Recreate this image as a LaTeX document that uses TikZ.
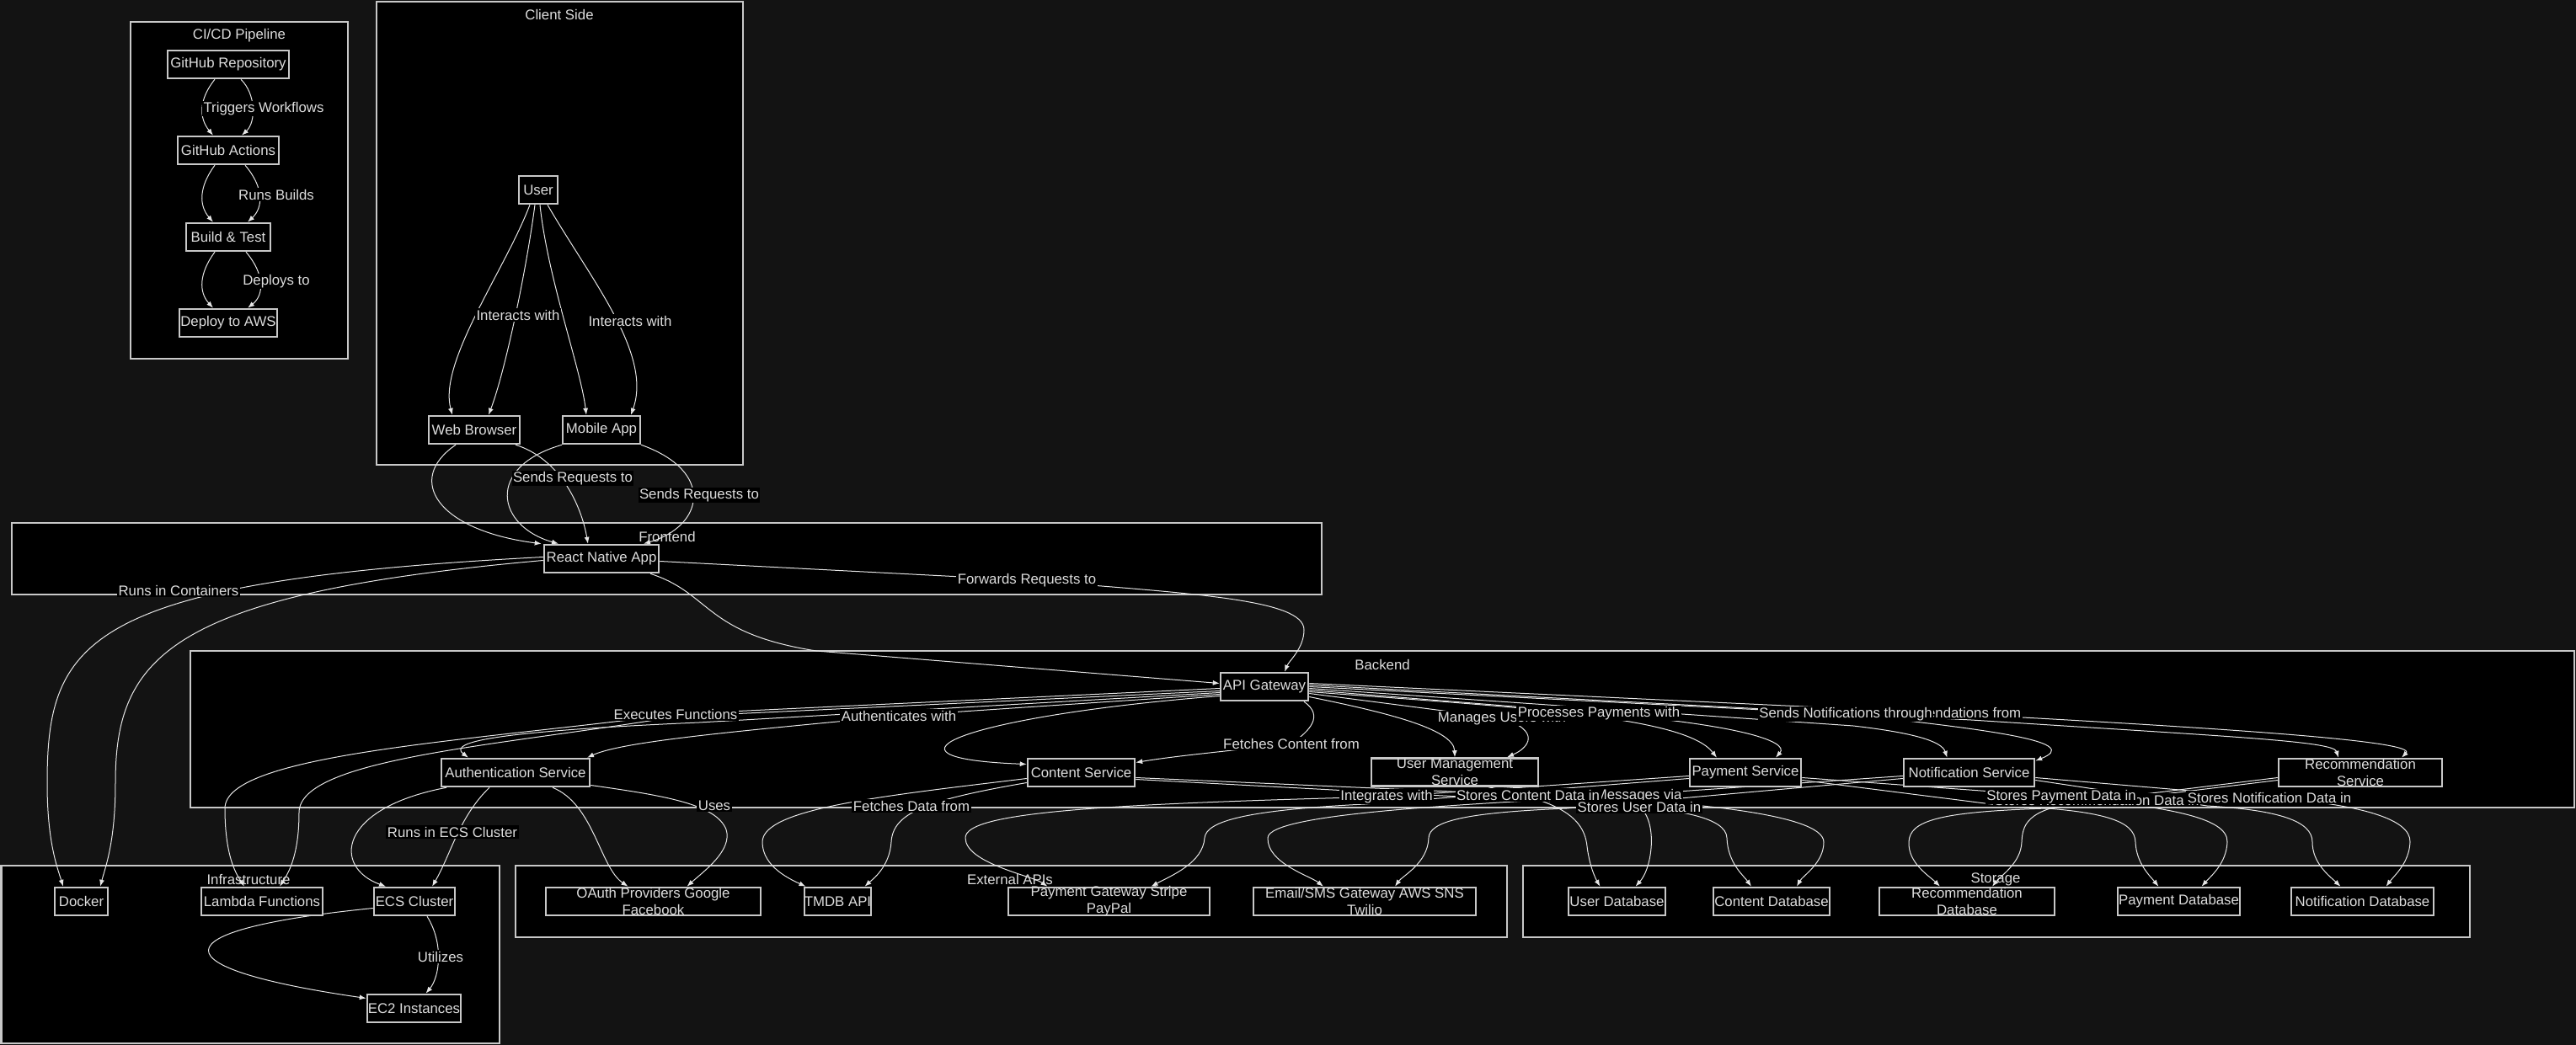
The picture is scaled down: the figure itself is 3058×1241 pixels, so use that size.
\documentclass[tikz,border=0pt]{standalone}
\usepackage{fontspec}
\setmainfont{Liberation Sans}
\usetikzlibrary{arrows.meta}

\definecolor{bgc}{HTML}{131313}
\definecolor{linec}{HTML}{E6E6E6}
\definecolor{framec}{HTML}{C8C8C8}
\definecolor{txtc}{HTML}{DDDDDD}

\pgfdeclarelayer{back}
\pgfdeclarelayer{edges}
\pgfsetlayers{back,edges,main}

\begin{document}
\begin{tikzpicture}[x=1pt,y=-1pt,
  every node/.style={font=\fontsize{16.8}{20}\selectfont,text=txtc},
  cluster/.style={draw=framec,line width=2.5pt,fill=black},
  box/.style={draw=framec,line width=2.5pt,fill=black,minimum height=33pt,inner sep=0pt},
  twoline/.style={align=center,inner sep=0pt},
  lbl/.style={fill=black,inner sep=1.5pt},
  edge/.style={->,draw=linec,line width=1pt},
  >={Latex[length=8pt,width=6pt]}]

\useasboundingbox (0,0) rectangle (3058,1241);

\begin{pgfonlayer}{back}
\fill[bgc] (0,0) rectangle (3058,1241);
% subgraphs
\draw[cluster] (155,26) rectangle (413,426);
\node (tcicd) at (284,42) {CI/CD Pipeline};
\draw[cluster] (447,2) rectangle (882,552);
\node (tclient) at (664,17) {Client Side};
\draw[cluster] (14,621) rectangle (1569,706);
\node (tfront) at (792,637) {Frontend};
\draw[cluster] (226,773) rectangle (3056,959);
\node (tback) at (1641,789) {Backend};
\draw[cluster] (1.5,1028) rectangle (593,1239);
\node (tinfra) at (295,1044) {Infrastructure};
\draw[cluster] (612,1028) rectangle (1789,1113);
\node (text) at (1199,1044) {External APIs};
\draw[cluster] (1808,1028) rectangle (2932,1113);
\node (tstore) at (2369,1044) {Storage};
\end{pgfonlayer}

% CI/CD
\node[box,minimum width=144pt] (ghr) at (271,76.5) {GitHub Repository};
\node[box,minimum width=120pt] (gha) at (271,178.5) {GitHub Actions};
\node[box,minimum width=100pt] (bt) at (271,281.5) {Build \& Test};
\node[box,minimum width=116pt] (aws) at (271,383.5) {Deploy to AWS};
% client side
\node[box,minimum width=46pt] (user) at (639,225.5) {User};
\node[box,minimum width=108pt] (wb) at (563,510.5) {Web Browser};
\node[box,minimum width=92pt] (ma) at (714,510.5) {Mobile App};
% frontend
\node[box,minimum width=136pt] (rna) at (714,663.5) {React Native App};
% backend
\node[box,minimum width=104pt] (api) at (1501,815.5) {API Gateway};
\node[box,minimum width=176pt] (auth) at (612,917.5) {Authentication Service};
\node[box,minimum width=127pt] (cont) at (1283.5,917.5) {Content Service};
\node[box,minimum width=198pt,label={[twoline]center:User Management\\Service}] (ums) at (1727,917) {};
\node[box,minimum width=132pt] (pay) at (2072,917.5) {Payment Service};
\node[box,minimum width=155pt] (notif) at (2337.5,917.5) {Notification Service};
\node[box,minimum width=194pt,label={[twoline]center:Recommendation\\Service}] (rec) at (2802,917.5) {};
% infrastructure
\node[box,minimum width=63pt] (docker) at (96.5,1070.5) {Docker};
\node[box,minimum width=144pt] (lambda) at (311,1070.5) {Lambda Functions};
\node[box,minimum width=96pt] (ecs) at (492,1070.5) {ECS Cluster};
\node[box,minimum width=111pt] (ec2) at (491.5,1197.5) {EC2 Instances};
% external apis
\node[box,minimum width=255pt,label={[twoline]center:OAuth Providers Google\\Facebook}] (oauth) at (775.5,1070.5) {};
\node[box,minimum width=79pt] (tmdb) at (994.5,1070.5) {TMDB API};
\node[box,minimum width=239pt,label={[twoline]center:Payment Gateway Stripe\\PayPal}] (pgw) at (1316.5,1070.5) {};
\node[box,minimum width=264pt,label={[twoline]center:Email/SMS Gateway AWS SNS\\Twilio}] (sms) at (1620,1070.5) {};
% storage
\node[box,minimum width=115pt] (udb) at (1919.5,1070.5) {User Database};
\node[box,minimum width=138pt] (cdb) at (2103,1070.5) {Content Database};
\node[box,minimum width=208pt,label={[twoline]center:Recommendation\\Database}] (rdb) at (2335,1070.5) {};
\node[box,minimum width=145pt] (pdb) at (2586.5,1070.5) {Payment Database};
\node[box,minimum width=169pt] (ndb) at (2804.5,1070.5) {Notification Database};

% edge labels
\node[lbl] (lTrig) at (313,129) {Triggers Workflows};
\node[lbl] (lRuns) at (328,231) {Runs Builds};
\node[lbl] (lDepl) at (328,334) {Deploys to};
\node[lbl] (lInt1) at (615,374) {Interacts with};
\node[lbl] (lInt2) at (748,381) {Interacts with};
\node[lbl] (lSnd1) at (680,568) {Sends Requests to};
\node[lbl] (lSnd2) at (830,588) {Sends Requests to};
\node[lbl] (lCont) at (212,701) {Runs in Containers};
\node[lbl] (lFwd) at (1219,689) {Forwards Requests to};
\node[lbl] (lExec) at (802,848) {Executes Functions};
\node[lbl] (lAuth) at (1067,850) {Authenticates with};
\node[lbl] (lFetC) at (1533,883) {Fetches Content from};
\node[lbl] (lMan) at (1783,853) {Manages Users with};
\node[lbl] (lProc) at (1898,847) {Processes Payments with};
\node[lbl] (lRecs) at (2290,846) {Gets Recommendations from};
\node[lbl] (lNoti) at (2191,848) {Sends Notifications through};
\node[lbl] (lECS) at (537,988) {Runs in ECS Cluster};
\node[lbl] (lUses) at (848,957) {Uses};
\node[lbl] (lFetD) at (1082,957) {Fetches Data from};
\node[lbl] (lIntg) at (1646,946) {Integrates with};
\node[lbl] (lSRD) at (2489,950) {Stores Recommendation Data in};
\node[lbl] (lSPD) at (2447,946) {Stores Payment Data in};
\node[lbl] (lSND) at (2694,947) {Stores Notification Data in};
\node[lbl] (lMsg) at (1919,945) {Sends Messages via};
\node[lbl] (lSCD) at (1814,944) {Stores Content Data in};
\node[lbl] (lSUD) at (1946,958) {Stores User Data in};
\node[lbl] (lUtil) at (523,1136) {Utilizes};

\begin{pgfonlayer}{edges}
% pipeline
\draw[edge] ([xshift=-16pt]ghr.south) .. controls (236,118) and (236,140) .. ([xshift=-18pt]gha.north);
\draw[edge] ([xshift=15pt]ghr.south) .. controls (304,112) and (304,145) .. ([xshift=16pt]gha.north);
\draw[edge] ([xshift=-16pt]gha.south) .. controls (236,222) and (236,244) .. ([xshift=-18pt]bt.north);
\draw[edge] ([xshift=20pt]gha.south) .. controls (313,222) and (313,246) .. ([xshift=23pt]bt.north);
\draw[edge] ([xshift=-16pt]bt.south) .. controls (236,325) and (236,347) .. ([xshift=-18pt]aws.north);
\draw[edge] ([xshift=21pt]bt.south) .. controls (314,325) and (314,350) .. ([xshift=23pt]aws.north);
% client side
\draw[edge] ([xshift=-10pt]user.south) .. controls (600,320) and (520,430) .. ([xshift=-26pt]wb.north);
\draw[edge] ([xshift=-4pt]user.south) .. controls (625,320) and (600,440) .. ([xshift=17pt]wb.north);
\draw[edge] ([xshift=2pt]user.south) .. controls (650,330) and (690,440) .. ([xshift=-18pt]ma.north);
\draw[edge] ([xshift=11pt]user.south) .. controls (700,330) and (775,420) .. ([xshift=35pt]ma.north);
\draw[edge] ([xshift=-22pt]wb.south) .. controls (480,570) and (520,630) .. ([xshift=-2pt]rna.north west);
\draw[edge] ([xshift=49pt]wb.south) .. controls (665,545) and (690,600) .. ([xshift=-16pt]rna.north);
\draw[edge] ([xshift=-47pt]ma.south) .. controls (575,555) and (590,625) .. ([xshift=-51pt]rna.north);
\draw[edge] ([xshift=47pt]ma.south) .. controls (850,560) and (835,625) .. ([xshift=50pt]rna.north);
% frontend
\draw[edge] ([xshift=58pt]rna.south) .. controls (845,705) and (835,752) .. (969,773) -- ([yshift=4pt]api.west);
\draw[edge] ([yshift=-3pt]rna.east) -- (lFwd.center) .. controls (1420,705) and (1548,712) .. (1548,748) .. controls (1548,770) and (1530,785) .. ([xshift=24pt]api.north);
\draw[edge] ([yshift=2pt]rna.west) .. controls (100,690) and (56,760) .. (56,930) .. controls (56,1000) and (68,1030) .. ([xshift=-21.5pt]docker.north);
\draw[edge] ([yshift=-2pt]rna.west) .. controls (200,705) and (137,780) .. (137,930) .. controls (137,1000) and (125,1030) .. ([xshift=22.5pt]docker.north);
% backend
\draw[edge] ([yshift=-2pt]api.west) -- (lExec.center) .. controls (560,880) and (267,895) .. (267,960) .. controls (267,1020) and (282,1040) .. ([xshift=-21pt]lambda.north);
\draw[edge] ([yshift=-5pt]api.west) -- ([yshift=-3pt]lExec.center) .. controls (600,885) and (355,900) .. (355,965) .. controls (355,1020) and (340,1040) .. ([xshift=21pt]lambda.north);
\draw[edge] ([yshift=-7pt]api.west) -- (830,858) .. controls (600,868) and (530,880) .. ([xshift=-56pt]auth.north);
\draw[edge] ([yshift=-9pt]api.west) -- (lAuth.center) .. controls (880,868) and (740,880) .. ([xshift=85pt]auth.north);
\draw[edge] ([yshift=-11pt]api.west) .. controls (1150,850) and (1020,900) .. ([yshift=10pt]cont.west);
\draw[edge] ([xshift=47pt]api.south) .. controls (1572,850) and (1555,868) .. (lFetC.center) .. controls (1450,893) and (1400,897) .. ([yshift=12pt]cont.east);
\draw[edge] ([yshift=-12pt]api.east) .. controls (1640,845) and (1726,865) .. (ums.north);
\draw[edge] ([yshift=-8pt]api.east) -- (lMan.center) .. controls (1830,868) and (1815,888) .. ([xshift=62pt]ums.north);
\draw[edge] ([yshift=-6pt]api.east) .. controls (1800,840) and (2000,850) .. ([xshift=-34pt]pay.north);
\draw[edge] ([yshift=-4pt]api.east) -- (lProc.center) .. controls (2060,860) and (2125,880) .. ([xshift=36pt]pay.north);
\draw[edge] ([yshift=-2pt]api.east) -- (2200,862) .. controls (2270,870) and (2305,880) .. ([xshift=-26pt]notif.north);
\draw[edge] (api.east) -- (lNoti.center) .. controls (2380,868) and (2470,882) .. ([yshift=14pt]notif.east);
\draw[edge] ([yshift=2pt]api.east) -- (2340,855) .. controls (2650,875) and (2770,880) .. ([xshift=-26pt]rec.north);
\draw[edge] ([yshift=4pt]api.east) -- (lRecs.center) .. controls (2650,865) and (2870,880) .. ([xshift=49pt]rec.north);
% services to infrastructure, apis and storage
\draw[edge] ([xshift=-82pt]auth.south) .. controls (400,960) and (395,1030) .. ([xshift=-34pt]ecs.north);
\draw[edge] ([xshift=-31pt]auth.south) .. controls (545,970) and (535,1015) .. ([xshift=21pt]ecs.north);
\draw[edge] ([xshift=44pt]auth.south) .. controls (705,955) and (712,1030) .. ([xshift=-30pt]oauth.north);
\draw[edge] ([yshift=-15pt]auth.east) .. controls (790,945) and (850,955) .. (862,985) .. controls (870,1010) and (835,1035) .. ([xshift=40pt]oauth.north);
\draw[edge] ([yshift=-7pt]cont.west) .. controls (1050,945) and (905,960) .. (905,1000) .. controls (905,1030) and (940,1045) .. ([xshift=-38pt]tmdb.north);
\draw[edge] ([yshift=-12pt]cont.west) .. controls (1100,950) and (1060,965) .. (1058,1000) .. controls (1056,1030) and (1035,1045) .. ([xshift=32pt]tmdb.north);
\draw[edge] ([yshift=-4pt]pay.west) -- (lIntg.center) .. controls (1300,955) and (1146,965) .. (1146,995) .. controls (1146,1025) and (1225,1040) .. ([xshift=-73pt]pgw.north);
\draw[edge] ([yshift=-7pt]pay.west) -- (1620,955) .. controls (1480,962) and (1432,975) .. (1430,995) .. controls (1428,1025) and (1390,1040) .. ([xshift=50pt]pgw.north);
\draw[edge] ([yshift=-4pt]notif.west) -- (lMsg.center) .. controls (1750,955) and (1506,965) .. (1505,995) .. controls (1504,1025) and (1555,1040) .. ([xshift=-49pt]sms.north);
\draw[edge] ([yshift=-7pt]notif.west) -- (1860,960) .. controls (1740,965) and (1697,975) .. (1696,995) .. controls (1695,1025) and (1665,1040) .. ([xshift=36pt]sms.north);
\draw[edge] ([yshift=-6pt]cont.east) -- (lSCD.center) .. controls (1990,950) and (2165,965) .. (2165,1000) .. controls (2165,1025) and (2140,1040) .. ([xshift=30pt]cdb.north);
\draw[edge] ([yshift=-8pt]cont.east) -- (1900,955) .. controls (1990,960) and (2049,970) .. (2050,995) .. controls (2051,1025) and (2070,1040) .. ([xshift=-24pt]cdb.north);
\draw[edge] ([xshift=40pt]ums.south) .. controls (1840,950) and (1880,965) .. (1884,1005) .. controls (1887,1030) and (1895,1045) .. ([xshift=-20pt]udb.north);
\draw[edge] ([xshift=70pt]ums.south) -- (lSUD.center) .. controls (1968,975) and (1962,1030) .. ([xshift=22pt]udb.north);
\draw[edge] ([yshift=-6pt]pay.east) -- (lSPD.center) .. controls (2570,958) and (2645,970) .. (2644,1000) .. controls (2643,1025) and (2625,1040) .. ([xshift=27pt]pdb.north);
\draw[edge] ([yshift=-9pt]pay.east) -- (2380,957) .. controls (2500,962) and (2534,975) .. (2535,1000) .. controls (2536,1025) and (2552,1040) .. ([xshift=-24pt]pdb.north);
\draw[edge] ([yshift=-6pt]rec.west) -- (lSRD.center) .. controls (2410,958) and (2401,975) .. (2400,1000) .. controls (2399,1025) and (2375,1040) .. ([xshift=30pt]rdb.north);
\draw[edge] ([yshift=-9pt]rec.west) -- (2430,960) .. controls (2300,964) and (2267,975) .. (2266,1000) .. controls (2265,1025) and (2290,1040) .. ([xshift=-32pt]rdb.north);
\draw[edge] ([yshift=-6pt]notif.east) -- (lSND.center) .. controls (2800,955) and (2862,972) .. (2861,1000) .. controls (2860,1025) and (2842,1040) .. ([xshift=28pt]ndb.north);
\draw[edge] ([yshift=-9pt]notif.east) -- (2620,957) .. controls (2705,962) and (2745,975) .. (2745,1000) .. controls (2745,1025) and (2765,1040) .. ([xshift=-26pt]ndb.north);
% infrastructure
\draw[edge] ([yshift=-8pt]ecs.west) .. controls (180,1105) and (190,1150) .. ([yshift=12pt]ec2.west);
\draw[edge] ([xshift=15pt]ecs.south) .. controls (527,1120) and (522,1160) .. ([xshift=14pt]ec2.north);
\end{pgfonlayer}

\end{tikzpicture}
\end{document}
